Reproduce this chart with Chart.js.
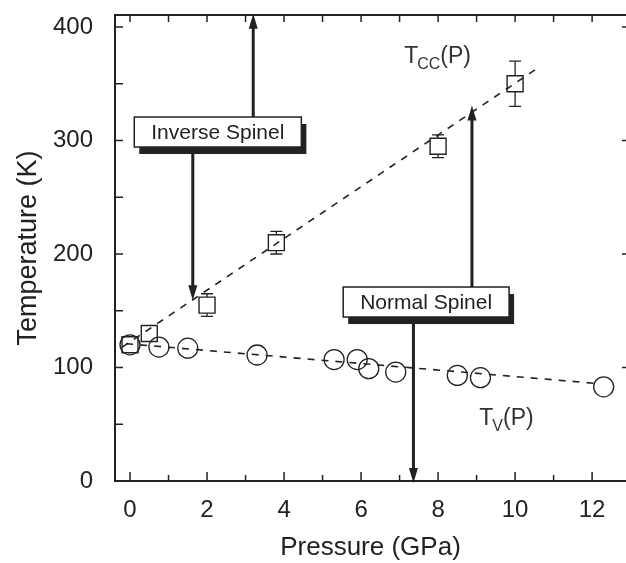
<!DOCTYPE html>
<html>
<head>
<meta charset="utf-8">
<script src="https://cdn.jsdelivr.net/npm/chart.js@4/dist/chart.umd.min.js"></script>
<style>
  html, body { margin: 0; padding: 0; background: #fff; }
  #wrap { width: 626px; height: 563px; }
</style>
</head>
<body>
<div id="wrap"><canvas id="chart" width="626" height="563"></canvas></div>
<script>
// T_CC(P) points (squares) with error bars
var ccPressure = [0, 0.5, 2, 3.8, 8, 10];
var ccTemp     = [120, 130, 155, 210, 295, 350];
var ccErr      = [3, 3, 10, 10, 10, 20];

// T_V(P) points (circles)
var vPressure = [0, 0.75, 1.5, 3.3, 5.3, 5.9, 6.2, 6.9, 8.5, 9.1, 12.3];
var vTemp     = [120, 118, 117, 111, 107, 107, 99, 96, 93, 91, 83];

// dashed guide lines
var ccFitP = [-0.2, 10.55];
var ccFitT = [118, 363];
var vFitP  = [-0.1, 12.1];
var vFitT  = [121, 86];

var xTicks = [0, 2, 4, 6, 8, 10, 12];
var yTicks = [0, 100, 200, 300, 400];

var ink = '#222';
var font = 'Liberation Sans, Arial, Helvetica, sans-serif';

// phase boxes and their arrows (data coords)
var notes = [
  { text: 'Inverse Spinel', p: 2.28, t: 307.5, upP: 3.2, upT: 410, downP: 1.63, downT: 161 },
  { text: 'Normal Spinel',  p: 7.69, t: 157.7, upP: 8.88, upT: 329, downP: 7.36, downT: 0 }
];

function toPts(xs, ys) {
  var out = [];
  for (var i = 0; i < xs.length; i++) out.push({ x: xs[i], y: ys[i] });
  return out;
}

function noPad(s) {
  s.paddingTop = 0; s.paddingBottom = 0; s.paddingLeft = 0; s.paddingRight = 0;
}

function arrowHead(ctx, x, y, dir) {
  // dir = -1 points up, +1 points down
  ctx.beginPath();
  ctx.moveTo(x, y);
  ctx.lineTo(x - 4.5, y - dir * 15);
  ctx.lineTo(x + 4.5, y - dir * 15);
  ctx.closePath();
  ctx.fill();
}

var frameTicks = {
  id: 'frameTicks',
  afterDatasetsDraw: function(chart) {
    var ctx = chart.ctx, a = chart.chartArea;
    var xs = chart.scales.x, ys = chart.scales.y;
    ctx.save();
    ctx.strokeStyle = ink;
    ctx.lineWidth = 2;
    // right spine sits just past the canvas edge, as in the original
    ctx.beginPath();
    ctx.moveTo(a.right + 2, a.top); ctx.lineTo(a.left, a.top);
    ctx.lineTo(a.left, a.bottom); ctx.lineTo(a.right + 2, a.bottom);
    ctx.stroke();
    ctx.lineWidth = 1.5;
    ctx.beginPath();
    for (var p = 0; p <= 12; p++) {
      var px = xs.getPixelForValue(p);
      var len = (p % 2 === 0) ? 9 : 6;
      ctx.moveTo(px, a.bottom); ctx.lineTo(px, a.bottom - len);
      ctx.moveTo(px, a.top); ctx.lineTo(px, a.top + 7);
    }
    for (var t = 0; t <= 400; t += 50) {
      var py = ys.getPixelForValue(t);
      ctx.moveTo(a.left, py); ctx.lineTo(a.left + 8, py);
      if (t % 100 === 0) { ctx.moveTo(a.right, py); ctx.lineTo(a.right - 4, py); }
    }
    ctx.stroke();

    // error bars, kept outside the square marker
    var half = 8;
    ctx.lineWidth = 1.3;
    ctx.beginPath();
    for (var i = 0; i < ccPressure.length; i++) {
      var ex = xs.getPixelForValue(ccPressure[i]);
      var ey = ys.getPixelForValue(ccTemp[i]);
      var top = ys.getPixelForValue(ccTemp[i] + ccErr[i]);
      var bot = ys.getPixelForValue(ccTemp[i] - ccErr[i]);
      if (ey - top > half) {
        ctx.moveTo(ex, ey - half); ctx.lineTo(ex, top);
        ctx.moveTo(ex - 6, top); ctx.lineTo(ex + 6, top);
      }
      if (bot - ey > half) {
        ctx.moveTo(ex, ey + half); ctx.lineTo(ex, bot);
        ctx.moveTo(ex - 6, bot); ctx.lineTo(ex + 6, bot);
      }
    }
    ctx.stroke();
    ctx.restore();
  },
  afterDraw: function(chart) {
    var ctx = chart.ctx;
    var xs = chart.scales.x, ys = chart.scales.y;
    ctx.save();
    ctx.fillStyle = ink;
    ctx.strokeStyle = ink;

    notes.forEach(function(n) {
      ctx.font = '21px ' + font;
      var w = ctx.measureText(n.text).width + 34, h = 30;
      var cx = xs.getPixelForValue(n.p), cy = ys.getPixelForValue(n.t);
      var bx = cx - w / 2, by = cy - h / 2;

      // arrows
      ctx.lineWidth = 3;
      var ux = xs.getPixelForValue(n.upP), uy = ys.getPixelForValue(n.upT);
      var dx = xs.getPixelForValue(n.downP), dy = ys.getPixelForValue(n.downT);
      ctx.beginPath();
      ctx.moveTo(ux, by); ctx.lineTo(ux, uy + 10);
      ctx.moveTo(dx, by + h); ctx.lineTo(dx, dy - 10);
      ctx.stroke();
      arrowHead(ctx, ux, uy - 2, -1);
      arrowHead(ctx, dx, dy + 2, 1);

      // shadow + box
      ctx.fillStyle = ink;
      ctx.fillRect(bx + 5, by + 7, w, h);
      ctx.fillStyle = '#fff';
      ctx.fillRect(bx, by, w, h);
      ctx.lineWidth = 1.5;
      ctx.strokeRect(bx, by, w, h);
      ctx.fillStyle = ink;
      ctx.textAlign = 'center';
      ctx.textBaseline = 'middle';
      ctx.fillText(n.text, cx, cy + 1);
    });

    // curve labels with subscripts
    function subLabel(sub, p, t) {
      var x = xs.getPixelForValue(p), y = ys.getPixelForValue(t);
      ctx.textAlign = 'left';
      ctx.textBaseline = 'alphabetic';
      ctx.fillStyle = '#333';
      ctx.font = '23px ' + font;
      ctx.fillText('T', x, y);
      x += ctx.measureText('T').width - 1;
      ctx.font = '16px ' + font;
      ctx.fillText(sub, x, y + 6);
      x += ctx.measureText(sub).width;
      ctx.font = '23px ' + font;
      ctx.fillText('(P)', x, y);
    }
    subLabel('CC', 7.12, 368);
    subLabel('V', 9.07, 49);
    ctx.restore();
  }
};

var ctx = document.getElementById('chart').getContext('2d');
new Chart(ctx, {
  type: 'scatter',
  data: {
    datasets: [
      {
        data: toPts(ccFitP, ccFitT), showLine: true, pointRadius: 0,
        borderColor: ink, borderWidth: 1.6, borderDash: [7, 7]
      },
      {
        data: toPts(vFitP, vFitT), showLine: true, pointRadius: 0,
        borderColor: ink, borderWidth: 1.6, borderDash: [7, 7]
      },
      {
        data: toPts(ccPressure, ccTemp), pointStyle: 'rect', pointRadius: 11.3,
        borderColor: ink, borderWidth: 1.4, backgroundColor: 'rgba(0,0,0,0)'
      },
      {
        data: toPts(vPressure, vTemp), pointStyle: 'circle', pointRadius: 10,
        borderColor: ink, borderWidth: 1.3, backgroundColor: 'rgba(0,0,0,0)'
      }
    ]
  },
  options: {
    responsive: false,
    animation: false,
    devicePixelRatio: 1,
    layout: { autoPadding: false, padding: { top: 15, right: 0, left: 0, bottom: 0 } },
    plugins: { legend: { display: false }, tooltip: { enabled: false } },
    scales: {
      x: {
        type: 'linear', min: -0.39, max: 12.88,
        afterBuildTicks: function(s) { s.ticks = xTicks.map(function(v) { return { value: v }; }); },
        afterFit: function(s) { s.height = 82; noPad(s); },
        grid: { display: false }, border: { display: false },
        ticks: { color: ink, font: { family: font, size: 24 }, padding: 7, maxRotation: 0 },
        title: { display: true, text: 'Pressure (GPa)', color: ink,
                 font: { family: font, size: 26 }, padding: { top: 0, bottom: 0 } }
      },
      y: {
        type: 'linear', min: 0, max: 410.6,
        afterBuildTicks: function(s) { s.ticks = yTicks.map(function(v) { return { value: v }; }); },
        afterFit: function(s) { s.width = 115; noPad(s); },
        grid: { display: false }, border: { display: false },
        ticks: { color: ink, font: { family: font, size: 24 }, padding: 14 },
        title: { display: true, text: 'Temperature (K)', color: ink,
                 font: { family: font, size: 27 }, padding: { top: 12, bottom: 0 } }
      }
    }
  },
  plugins: [frameTicks]
});
</script>
</body>
</html>
